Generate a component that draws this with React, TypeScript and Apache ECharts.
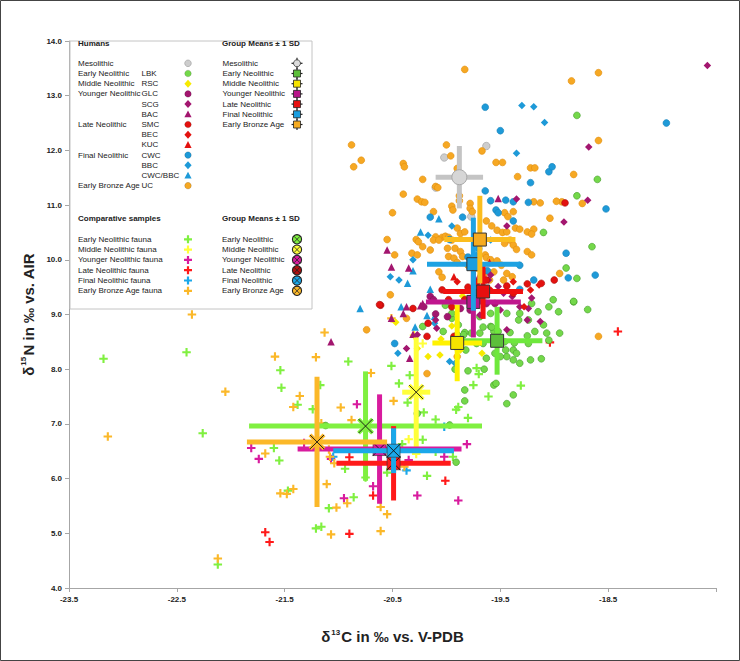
import React, { useEffect, useRef } from 'react';
import * as echarts from 'echarts';

// ---------- Humans (δ13C, δ15N) ----------
const mesolithic = [[-20.02, 11.87], [-19.63, 12.08], [-20.10, 11.32], [-19.77, 10.79]];
const lbk = [
  [-19.44, 8.23], [-19.38, 8.17], [-19.32, 8.11], [-19.22, 8.17], [-19.12, 8.19], [-19.38, 8.35], [-19.35, 8.29], [-19.45, 8.35],
  [-19.37, 8.48], [-19.25, 8.61], [-19.41, 8.67], [-19.18, 8.69], [-19.10, 8.81], [-19.07, 8.66], [-18.96, 9.05], [-18.82, 9.23],
  [-19.15, 9.05], [-19.21, 9.20], [-19.24, 8.90], [-19.33, 8.90], [-19.56, 8.69], [-19.59, 8.78], [-19.69, 8.66], [-19.77, 8.66],
  [-19.83, 8.67], [-19.72, 8.47], [-19.82, 8.35], [-19.90, 8.39], [-19.92, 8.00], [-19.80, 7.97], [-19.63, 8.20], [-19.55, 8.29],
  [-19.50, 8.23], [-19.66, 8.47], [-19.46, 8.50], [-19.24, 8.47], [-20.22, 8.78], [-20.03, 8.69], [-19.95, 8.93], [-20.01, 9.17],
  [-19.93, 8.53], [-19.44, 9.02], [-19.32, 9.02], [-19.05, 8.53], [-18.95, 8.66], [-18.79, 12.64], [-18.60, 11.47], [-18.79, 11.17],
  [-18.65, 10.24], [-18.89, 9.85], [-18.79, 9.66], [-18.82, 9.24], [-18.69, 9.09], [-20.27, 7.19], [-19.83, 7.62], [-19.83, 7.42],
  [-21.12, 6.97], [-19.97, 6.98], [-19.91, 6.30], [-19.65, 8.00], [-19.56, 7.71], [-19.54, 7.74], [-19.44, 7.37], [-19.38, 7.53],
  [-19.10, 10.50], [-19.05, 9.14], [-19.01, 9.27], [-19.59, 9.02], [-19.69, 8.96], [-19.66, 8.77], [-19.58, 8.77], [-19.52, 8.69],
  [-19.95, 9.02], [-19.89, 8.81], [-19.84, 8.63], [-19.90, 8.63]
];
const rsc = [[-20.27, 8.38], [-20.17, 8.23], [-20.06, 8.26], [-19.67, 8.29], [-19.87, 8.35], [-19.95, 8.79], [-20.47, 8.86], [-19.85, 9.34], [-20.05, 8.55]];
const glc = [[-20.15, 9.33], [-20.12, 9.27], [-19.87, 9.11], [-19.78, 9.08], [-19.63, 9.20], [-20.21, 9.14], [-20.10, 9.01], [-19.99, 8.96], [-19.70, 9.38], [-19.55, 9.20]];
const scg = [
  [-17.58, 13.55], [-18.68, 12.06], [-18.69, 11.09], [-18.91, 10.69], [-19.35, 11.11], [-19.59, 9.72], [-19.61, 9.63], [-19.52, 9.51],
  [-19.47, 9.39], [-19.39, 9.33], [-19.32, 9.14], [-19.24, 9.11], [-19.25, 8.90], [-19.13, 8.87], [-19.44, 8.72], [-19.50, 9.08],
  [-19.69, 8.99], [-19.21, 9.30], [-20.37, 8.38], [-20.27, 8.63], [-20.09, 8.75], [-20.10, 8.90], [-19.44, 10.62]
];
const bac = [[-19.52, 11.12], [-20.55, 10.18], [-20.51, 9.87], [-20.35, 9.85], [-20.24, 9.16], [-20.22, 9.20], [-20.40, 9.02], [-20.31, 8.64], [-21.07, 8.50], [-20.37, 9.14], [-20.34, 8.20], [-20.51, 8.93], [-19.70, 9.70]];
const smc = [[-20.04, 9.45], [-19.98, 9.27], [-19.95, 9.14], [-19.83, 9.27], [-19.63, 9.63], [-19.44, 9.52], [-19.38, 9.39], [-19.25, 9.56], [-19.12, 9.57], [-19.00, 9.63], [-20.61, 9.17], [-20.31, 9.11], [-20.18, 8.60], [-20.62, 9.18], [-18.90, 11.04], [-20.17, 8.84], [-19.93, 8.60], [-19.72, 9.58], [-19.80, 9.50]];
const bec = [[-19.38, 9.60], [-19.59, 9.45], [-19.14, 9.54], [-19.22, 9.45], [-19.28, 9.14], [-19.70, 9.30], [-19.90, 9.60]];
const kuc = [[-19.93, 9.69], [-19.75, 9.40], [-19.60, 9.95]];
const cwc = [
  [-19.64, 12.79], [-19.50, 12.36], [-17.96, 12.50], [-18.52, 10.93], [-18.89, 10.12], [-18.87, 9.67], [-18.62, 9.72], [-19.85, 10.78],
  [-20.15, 10.78], [-19.97, 10.37], [-19.64, 11.26], [-19.59, 11.08], [-19.45, 11.09], [-19.38, 11.06], [-19.22, 11.41], [-19.05, 11.61],
  [-19.02, 11.70], [-19.19, 9.63], [-19.32, 9.90], [-19.32, 9.46], [-19.54, 10.91], [-19.52, 10.86], [-19.38, 10.71], [-20.48, 8.47],
  [-19.24, 11.05], [-19.70, 10.20], [-19.80, 10.05], [-19.62, 9.80]
];
const bbc = [[-19.30, 12.82], [-19.19, 12.80], [-19.09, 12.51], [-19.95, 10.62], [-20.17, 10.45], [-20.52, 9.69], [-20.44, 9.63], [-20.31, 10.00], [-20.11, 8.84], [-19.35, 11.95], [-19.59, 10.36], [-19.72, 10.09], [-20.45, 8.29], [-19.97, 8.14], [-19.92, 8.11]];
const cwcBbc = [[-20.07, 10.75], [-20.24, 10.51], [-20.31, 9.80], [-20.36, 9.57], [-20.15, 9.46], [-20.42, 9.14], [-20.18, 8.98], [-20.80, 9.11], [-20.11, 8.97], [-20.29, 8.77]];
const uc = [
  [-19.83, 13.48], [-18.84, 13.27], [-18.59, 13.42], [-18.59, 12.18], [-18.82, 11.56], [-18.93, 11.06], [-18.74, 11.03], [-18.59, 8.60],
  [-20.00, 12.10], [-19.96, 11.90], [-19.67, 11.99], [-20.40, 11.76], [-20.39, 11.70], [-19.54, 11.78], [-19.48, 11.78], [-19.22, 11.68],
  [-19.18, 11.68], [-19.90, 11.67], [-19.34, 11.52], [-20.22, 11.47], [-20.10, 11.34], [-20.08, 11.32], [-20.40, 11.20], [-20.27, 11.11],
  [-20.23, 11.06], [-20.20, 11.05], [-19.88, 11.08], [-19.88, 11.17], [-19.78, 11.03], [-19.95, 10.98], [-19.94, 10.91], [-20.12, 10.88],
  [-20.50, 10.86], [-19.78, 10.94], [-19.76, 10.88], [-19.46, 10.86], [-19.43, 10.79], [-19.38, 10.88], [-19.19, 11.06], [-19.13, 11.04],
  [-18.98, 11.07], [-19.04, 10.76], [-19.63, 10.71], [-19.58, 10.62], [-19.53, 10.54], [-19.48, 10.50], [-19.44, 10.51], [-19.36, 10.58],
  [-19.32, 10.56], [-19.25, 10.51], [-19.19, 10.56], [-19.21, 10.47], [-19.41, 10.36], [-19.46, 10.30], [-19.38, 10.27], [-19.35, 10.19],
  [-19.25, 10.15], [-19.21, 10.09], [-19.90, 10.58], [-19.87, 10.48], [-19.83, 10.51], [-20.10, 10.42], [-20.04, 10.41], [-20.01, 10.43],
  [-19.98, 10.41], [-19.95, 10.36], [-20.12, 10.36], [-20.07, 10.36], [-20.55, 10.37], [-20.28, 10.37], [-20.26, 10.33], [-20.22, 10.24],
  [-20.15, 10.18], [-19.99, 10.21], [-19.92, 10.21], [-19.87, 10.15], [-19.98, 10.06], [-19.93, 10.03], [-19.85, 10.06], [-20.32, 10.12],
  [-20.27, 10.09], [-20.48, 10.09], [-19.64, 10.09], [-19.63, 10.04], [-19.59, 10.00], [-19.53, 9.98], [-19.49, 9.90], [-19.56, 9.78],
  [-19.44, 9.75], [-19.39, 9.69], [-19.47, 9.63], [-19.60, 9.63], [-19.65, 9.75], [-20.07, 9.78], [-20.04, 9.68], [-20.52, 9.36],
  [-20.37, 8.93], [-18.95, 9.75], [-20.88, 12.10], [-20.79, 11.82], [-20.86, 11.70], [-20.74, 8.72], [-20.18, 7.92], [-19.90, 8.23],
  [-19.80, 9.90], [-19.72, 9.85], [-19.90, 9.95]
];

// ---------- Comparative fauna ----------
const faunaEN = [
  [-23.18, 8.19], [-22.41, 8.31], [-22.26, 6.83], [-22.12, 4.43], [-21.54, 7.98], [-21.53, 7.66], [-21.38, 7.35], [-21.60, 6.56],
  [-21.55, 6.33], [-21.47, 5.78], [-21.24, 7.27], [-21.17, 7.71], [-20.91, 8.14], [-20.51, 8.06], [-20.44, 7.74], [-20.34, 7.89],
  [-20.36, 7.39], [-20.21, 7.21], [-20.10, 7.08], [-19.91, 7.26], [-19.80, 7.11], [-19.75, 7.71], [-20.94, 6.18], [-20.75, 6.02],
  [-20.86, 5.66], [-21.09, 5.46], [-21.21, 5.09], [-21.16, 5.12], [-20.55, 6.11], [-20.22, 6.71], [-20.41, 6.63], [-20.10, 6.49],
  [-19.94, 6.40], [-20.18, 6.05], [-19.89, 7.31], [-19.72, 8.02], [-19.70, 7.91], [-19.61, 7.50], [-19.31, 7.70]
];
const faunaMN = [[-20.22, 8.47], [-20.35, 6.72], [-20.28, 6.45], [-20.30, 8.62]];
const faunaYN = [[-21.81, 6.56], [-21.74, 6.36], [-21.32, 6.65], [-21.07, 6.36], [-20.83, 7.36], [-20.68, 5.86], [-20.95, 5.64], [-20.35, 6.34], [-20.27, 5.69], [-20.02, 6.40], [-19.81, 6.63], [-19.89, 5.60]];
const faunaLN = [[-21.68, 5.02], [-21.64, 4.84], [-20.90, 6.39], [-20.68, 5.69], [-20.90, 4.99], [-20.01, 5.96], [-19.04, 8.49], [-18.41, 8.69]];
const faunaFN = [[-21.05, 6.40], [-20.37, 6.15], [-20.02, 6.95], [-20.47, 6.30]];
const faunaEBA = [
  [-23.14, 6.77], [-22.36, 9.00], [-22.05, 7.59], [-22.12, 4.54], [-21.59, 8.23], [-21.42, 7.31], [-21.36, 7.51], [-21.68, 6.46],
  [-21.54, 5.73], [-21.48, 5.72], [-21.42, 5.81], [-20.98, 7.30], [-20.70, 7.93], [-20.88, 7.07], [-21.16, 7.01], [-21.09, 6.53],
  [-21.08, 6.40], [-21.04, 6.28], [-21.11, 5.90], [-20.92, 5.55], [-21.02, 5.47], [-20.61, 5.48], [-20.55, 5.35], [-21.07, 4.98],
  [-20.61, 5.04], [-20.49, 7.42], [-20.39, 6.22], [-20.51, 8.93], [-21.13, 8.67], [-21.21, 8.22]
];

// ---------- Group means [mean δ13C, mean δ15N, SD δ13C, SD δ15N] ----------
const humanMeanNames = ['Mesolithic', 'Early Neolithic', 'Middle Neolithic', 'Younger Neolithic', 'Late Neolithic', 'Final Neolithic', 'Early Bronze Age'];
const humanMeans = [
  [-19.88, 11.51, 0.22, 0.57],
  [-19.53, 8.52, 0.42, 0.62],
  [-19.90, 8.48, 0.23, 0.70],
  [-19.75, 9.23, 0.44, 0.65],
  [-19.66, 9.42, 0.37, 0.50],
  [-19.75, 9.92, 0.43, 0.85],
  [-19.69, 10.37, 0.33, 0.80]
];
const faunaMeanNames = ['Early Neolithic', 'Middle Neolithic', 'Younger Neolithic', 'Late Neolithic', 'Final Neolithic', 'Early Bronze Age'];
const faunaMeans = [
  [-20.75, 6.96, 1.08, 1.00],
  [-20.28, 7.58, 0.13, 1.00],
  [-20.62, 6.54, 0.76, 1.00],
  [-20.49, 6.28, 0.53, 0.68],
  [-20.49, 6.51, 0.56, 0.41],
  [-21.20, 6.67, 0.65, 1.19]
];

const xTicks = [-23.5, -22.5, -21.5, -20.5, -19.5, -18.5];

// ---------- styling ----------
const FONT = '"Liberation Sans", Arial, sans-serif';
const CROSS = 'path://M3,0H5V3H8V5H5V8H3V5H0V3H3Z';

const C = {
  grey: '#cdcdcd', green: '#74d84a', yellow: '#f7ea00', magenta: '#a3166f', red: '#e3120f', blue: '#1e9ad8', orange: '#f6a823'
};
const humanBar = ['#c4c4c4', '#6ee83c', '#fff200', '#c0168e', '#f01010', '#1ea2e2', '#fbbd1e'];
const humanBox = ['#d6d6d6', '#5cbf3a', '#f5e400', '#b8168a', '#e80f0f', '#1a9ee0', '#f6ab20'];
const faunaCol = ['#80f040', '#ffff3a', '#d81b9e', '#ff1a1a', '#1aa8ea', '#fbb829'];

function scatter(name: string, data: number[][], symbol: string, size: number, color: string, border?: string) {
  return {
    type: 'scatter', name, data, symbol, symbolSize: size, z: 2, silent: true,
    itemStyle: { color, opacity: 1, borderColor: border || color, borderWidth: border ? 0.6 : 0 }
  };
}

function humanMeanSeries(i: number) {
  return {
    type: 'custom', name: 'Mean ' + humanMeanNames[i], data: [humanMeans[i]], z: 5, silent: true,
    encode: { x: 0, y: 1 },
    renderItem: (_p: any, api: any) => {
      const x = api.value(0), y = api.value(1), sx = api.value(2), sy = api.value(3);
      const c = api.coord([x, y]), l = api.coord([x - sx, y]), r = api.coord([x + sx, y]);
      const t = api.coord([x, y + sy]), b = api.coord([x, y - sy]);
      const col = humanBar[i];
      const kids: any[] = [
        { type: 'line', shape: { x1: l[0], y1: c[1], x2: r[0], y2: c[1] }, style: { stroke: col, lineWidth: 5 } },
        { type: 'line', shape: { x1: c[0], y1: t[1], x2: c[0], y2: b[1] }, style: { stroke: col, lineWidth: 5 } }
      ];
      if (i === 0) kids.push({ type: 'circle', shape: { cx: c[0], cy: c[1], r: 7.5 }, style: { fill: humanBox[i], stroke: '#a8a8a8', lineWidth: 1 } });
      else kids.push({ type: 'rect', shape: { x: c[0] - 6.5, y: c[1] - 6.5, width: 13, height: 13 }, style: { fill: humanBox[i], stroke: '#333', lineWidth: 1 } });
      return { type: 'group', children: kids };
    }
  };
}

function faunaMeanSeries(i: number) {
  return {
    type: 'custom', name: 'Fauna mean ' + faunaMeanNames[i], data: [faunaMeans[i]], z: 4, silent: true,
    encode: { x: 0, y: 1 },
    renderItem: (_p: any, api: any) => {
      const x = api.value(0), y = api.value(1), sx = api.value(2), sy = api.value(3);
      const c = api.coord([x, y]), l = api.coord([x - sx, y]), r = api.coord([x + sx, y]);
      const t = api.coord([x, y + sy]), b = api.coord([x, y - sy]);
      const col = faunaCol[i];
      const d = 7;
      const kids: any[] = [
        { type: 'line', shape: { x1: l[0], y1: c[1], x2: r[0], y2: c[1] }, style: { stroke: col, lineWidth: 5 } },
        { type: 'line', shape: { x1: c[0], y1: t[1], x2: c[0], y2: b[1] }, style: { stroke: col, lineWidth: 5 } }
      ];
      if (i >= 2 && i <= 4) {
        kids.push({ type: 'rect', shape: { x: c[0] - 6.5, y: c[1] - 6.5, width: 13, height: 13 }, style: { fill: col, stroke: '#333', lineWidth: 0.6 } });
      } else {
        kids.push({ type: 'line', shape: { x1: c[0] - d, y1: c[1] - d, x2: c[0] + d, y2: c[1] + d }, style: { stroke: col, lineWidth: 4 } });
        kids.push({ type: 'line', shape: { x1: c[0] - d, y1: c[1] + d, x2: c[0] + d, y2: c[1] - d }, style: { stroke: col, lineWidth: 4 } });
      }
      kids.push({ type: 'line', shape: { x1: c[0] - d, y1: c[1] - d, x2: c[0] + d, y2: c[1] + d }, style: { stroke: '#111', lineWidth: 0.9 } });
      kids.push({ type: 'line', shape: { x1: c[0] - d, y1: c[1] + d, x2: c[0] + d, y2: c[1] - d }, style: { stroke: '#111', lineWidth: 0.9 } });
      return { type: 'group', children: kids };
    }
  };
}

// ---------- legend graphics ----------
function txt(x: number, y: number, s: string, bold = false) {
  return { type: 'text', x, y, z: 20, silent: true, style: { text: s, fill: '#222', fontFamily: FONT, fontSize: 8, fontWeight: bold ? 'bold' : 'normal', verticalAlign: 'middle', align: 'left' } };
}
function mk(shape: string, x: number, y: number, fill: string) {
  if (shape === 'circle') return { type: 'circle', z: 20, shape: { cx: x, cy: y, r: 3.3 }, style: { fill, stroke: fill === C.grey ? '#999' : 'rgba(0,0,0,0.25)', lineWidth: 0.6 } };
  if (shape === 'diamond') return { type: 'polygon', z: 20, shape: { points: [[x, y - 4], [x + 3.6, y], [x, y + 4], [x - 3.6, y]] }, style: { fill } };
  if (shape === 'triangle') return { type: 'polygon', z: 20, shape: { points: [[x, y - 3.8], [x + 3.6, y + 3], [x - 3.6, y + 3]] }, style: { fill } };
  const a = 4, w = 1.1;
  return { type: 'polygon', z: 20, shape: { points: [[x - w, y - a], [x + w, y - a], [x + w, y - w], [x + a, y - w], [x + a, y + w], [x + w, y + w], [x + w, y + a], [x - w, y + a], [x - w, y + w], [x - a, y + w], [x - a, y - w], [x - w, y - w]] }, style: { fill } };
}

function buildLegend() {
  const g: any[] = [];
  g.push({ type: 'rect', z: 15, silent: true, shape: { x: 70, y: 41, width: 242, height: 268 }, style: { fill: '#fff', stroke: '#c4c4c4', lineWidth: 1 } });
  g.push(txt(78, 43.5, 'Humans', true));
  g.push(txt(222, 43.5, 'Group Means ± 1 SD', true));
  const rowY = (k: number) => 63.3 + k * 10.2;
  const groups: [number, string][] = [[0, 'Mesolithic'], [1, 'Early Neolithic'], [2, 'Middle Neolithic'], [3, 'Younger Neolithic'], [6, 'Late Neolithic'], [9, 'Final Neolithic'], [12, 'Early Bronze Age']];
  groups.forEach(([k, s]) => g.push(txt(78, rowY(k), s)));
  const subs: [string, string, string][] = [
    ['', 'circle', C.grey], ['LBK', 'circle', C.green], ['RSC', 'diamond', C.yellow], ['GLC', 'circle', C.magenta], ['SCG', 'diamond', C.magenta],
    ['BAC', 'triangle', C.magenta], ['SMC', 'circle', C.red], ['BEC', 'diamond', C.red], ['KUC', 'triangle', C.red], ['CWC', 'circle', C.blue],
    ['BBC', 'diamond', C.blue], ['CWC/BBC', 'triangle', C.blue], ['UC', 'circle', C.orange]
  ];
  subs.forEach(([s, shape, col], k) => {
    if (s) g.push(txt(141.5, rowY(k), s));
    g.push(mk(shape, 188, rowY(k), col));
  });
  humanMeanNames.forEach((s, k) => {
    const y = rowY(k);
    g.push(txt(222.5, y, s));
    g.push({ type: 'line', z: 20, shape: { x1: 291.5, y1: y, x2: 302.5, y2: y }, style: { stroke: '#222', lineWidth: 1.2 } });
    g.push({ type: 'line', z: 20, shape: { x1: 297, y1: y - 5.5, x2: 297, y2: y + 5.5 }, style: { stroke: '#222', lineWidth: 1.2 } });
    if (k === 0) g.push({ type: 'circle', z: 21, shape: { cx: 297, cy: y, r: 3.5 }, style: { fill: '#dcdcdc', stroke: '#333', lineWidth: 0.8 } });
    else g.push({ type: 'rect', z: 21, shape: { x: 293.5, y: y - 3.5, width: 7, height: 7 }, style: { fill: humanBox[k], stroke: '#222', lineWidth: 0.8 } });
  });
  g.push(txt(78, 218, 'Comparative samples', true));
  g.push(txt(222, 218, 'Group Means ± 1 SD', true));
  const fy = (k: number) => 239.3 + k * 10.3;
  const fNames = ['Early Neolithic fauna', 'Middle Neolithic fauna', 'Younger Neolithic fauna', 'Late Neolithic fauna', 'Final Neolithic fauna', 'Early Bronze Age fauna'];
  fNames.forEach((s, k) => {
    g.push(txt(78, fy(k), s));
    g.push(mk('cross', 188, fy(k), faunaCol[k]));
  });
  faunaMeanNames.forEach((s, k) => {
    const y = fy(k);
    g.push(txt(222, y, s));
    g.push({ type: 'circle', z: 21, shape: { cx: 297, cy: y, r: 4.6 }, style: { fill: k === 3 ? '#b01010' : faunaCol[k], stroke: '#222', lineWidth: 1.1 } });
    g.push({ type: 'line', z: 22, shape: { x1: 294, y1: y - 3, x2: 300, y2: y + 3 }, style: { stroke: '#222', lineWidth: 0.8 } });
    g.push({ type: 'line', z: 22, shape: { x1: 294, y1: y + 3, x2: 300, y2: y - 3 }, style: { stroke: '#222', lineWidth: 0.8 } });
  });
  g.push({ type: 'rect', z: 30, silent: true, shape: { x: 0.5, y: 0.5, width: 739, height: 660 }, style: { fill: 'none', stroke: '#444', lineWidth: 1 } });
  return g;
}

export default function App() {
  const ref = useRef<HTMLDivElement>(null);
  useEffect(() => {
    document.body.style.margin = '0';
    if (!ref.current) return;
    const chart = echarts.init(ref.current, undefined, { renderer: 'svg' });
    const axisLine = { show: true, lineStyle: { color: '#a6a6a6', width: 1 } };
    const option: any = {
      animation: false,
      backgroundColor: '#fff',
      grid: { left: 69, right: 24, top: 41, bottom: 73, containLabel: false },
      xAxis: {
        type: 'value', min: -23.5, max: -17.5, interval: 1,
        axisLine: { ...axisLine, onZero: false }, axisTick: { show: true, length: 4, lineStyle: { color: '#a6a6a6' } },
        splitLine: { show: false },
        axisLabel: {
          margin: 7, fontFamily: FONT, fontSize: 8, fontWeight: 'bold', color: '#222',
          formatter: (v: number) => (xTicks.some(t => Math.abs(t - v) < 1e-6) ? v.toFixed(1) : '')
        },
        name: '{a|δ}{s|13}{a|C in ‰ vs. V-PDB}', nameLocation: 'middle', nameGap: 40,
        nameTextStyle: {
          rich: {
            a: { fontFamily: FONT, fontSize: 15, fontWeight: 'bold', color: '#222' },
            s: { fontFamily: FONT, fontSize: 8, fontWeight: 'bold', color: '#222', padding: [0, 1, 9, 1] }
          }
        }
      },
      yAxis: {
        type: 'value', min: 4, max: 14, interval: 1,
        axisLine: { ...axisLine, onZero: false }, axisTick: { show: true, length: 4, lineStyle: { color: '#a6a6a6' } },
        splitLine: { show: false },
        axisLabel: { margin: 7, fontFamily: FONT, fontSize: 8, fontWeight: 'bold', color: '#222', formatter: (v: number) => v.toFixed(1) },
        name: '{a|δ}{s|15}{a|N in ‰ vs. AIR}', nameLocation: 'middle', nameGap: 32,
        nameTextStyle: {
          rich: {
            a: { fontFamily: FONT, fontSize: 15, fontWeight: 'bold', color: '#222' },
            s: { fontFamily: FONT, fontSize: 8, fontWeight: 'bold', color: '#222', padding: [0, 1, 9, 1] }
          }
        }
      },
      series: [
        scatter('Early Neolithic fauna', faunaEN, CROSS, 8.5, faunaCol[0]),
        scatter('Middle Neolithic fauna', faunaMN, CROSS, 8.5, faunaCol[1]),
        scatter('Younger Neolithic fauna', faunaYN, CROSS, 8.5, faunaCol[2]),
        scatter('Late Neolithic fauna', faunaLN, CROSS, 8.5, faunaCol[3]),
        scatter('Final Neolithic fauna', faunaFN, CROSS, 8.5, faunaCol[4]),
        scatter('Early Bronze Age fauna', faunaEBA, CROSS, 8.5, faunaCol[5]),
        scatter('Mesolithic', mesolithic, 'circle', 7.5, C.grey, '#9a9a9a'),
        scatter('LBK', lbk, 'circle', 6.8, C.green, '#3f9a26'),
        scatter('RSC', rsc, 'diamond', 7.5, C.yellow),
        scatter('UC', uc, 'circle', 6.8, C.orange, '#e08d0a'),
        scatter('CWC', cwc, 'circle', 6.8, C.blue, '#1682b8'),
        scatter('BBC', bbc, 'diamond', 7.5, C.blue),
        scatter('CWC/BBC', cwcBbc, 'triangle', 7.5, C.blue),
        scatter('GLC', glc, 'circle', 6.8, C.magenta, '#7e0f55'),
        scatter('SCG', scg, 'diamond', 7.5, C.magenta),
        scatter('BAC', bac, 'triangle', 7.5, C.magenta),
        scatter('SMC', smc, 'circle', 6.8, C.red, '#a80c0c'),
        scatter('BEC', bec, 'diamond', 7.5, C.red),
        scatter('KUC', kuc, 'triangle', 7.5, C.red),
        ...faunaMeans.map((_, i) => faunaMeanSeries(i)),
        ...humanMeans.map((_, i) => humanMeanSeries(i))
      ],
      graphic: buildLegend()
    };
    chart.setOption(option);
    return () => chart.dispose();
  }, []);
  return <div ref={ref} style={{ width: 740, height: 661 }} />;
}
